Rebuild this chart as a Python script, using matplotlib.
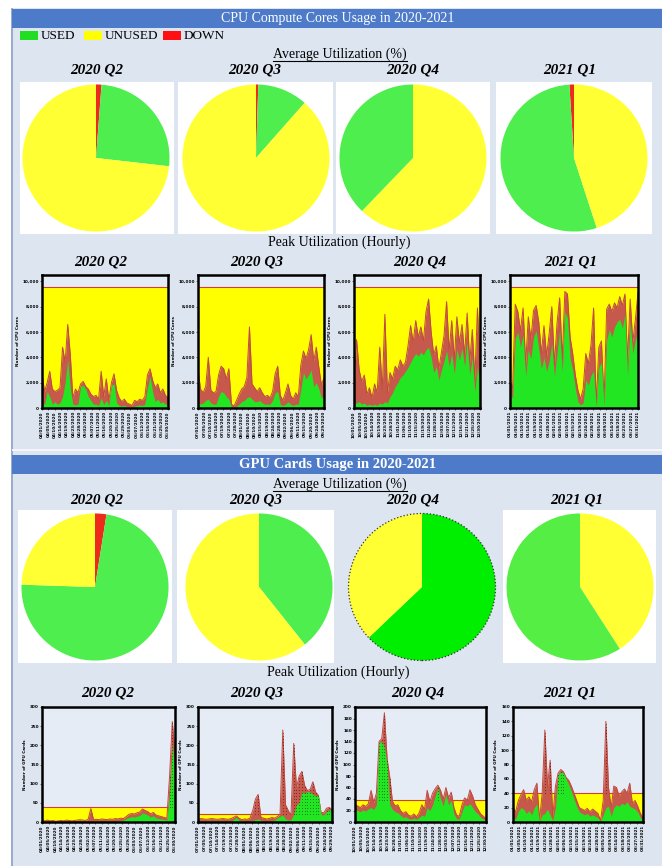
import numpy as np
import matplotlib
matplotlib.use("Agg")
import matplotlib.pyplot as plt
from matplotlib.patches import Rectangle, Circle
from matplotlib.lines import Line2D

W, H = 662, 866
SERIF = "Liberation Serif"

QUARTERS = ["2020 Q2", "2020 Q3", "2020 Q4", "2021 Q1"]
LEGEND = ["USED", "UNUSED", "DOWN"]

# average utilization (%) -> used, unused, down
cpu_used = [25.6, 11.0, 37.8, 54.0]
cpu_unused = [73.2, 88.5, 62.2, 45.0]
cpu_down = [1.2, 0.5, 0.0, 1.0]
gpu_used = [73.0, 39.3, 62.9, 59.1]
gpu_unused = [24.5, 60.7, 37.1, 40.9]
gpu_down = [2.5, 0.0, 0.0, 0.0]

# hourly peak (red) and used (green) series, capacity (yellow)
cpu_cap = [9560, 9560, 9560, 9560]
cpu_peak = [
    [2700, 1300, 2000, 2900, 1500, 1300, 1400, 1600, 4800, 3600, 6600, 4200, 800, 1500, 1200, 1900, 2100,
     1700, 1500, 1100, 900, 1000, 700, 2900, 900, 2300, 600, 2000, 2700, 1400, 800, 500, 700, 400, 300,
     200, 600, 500, 700, 600, 900, 2600, 3100, 2200, 1600, 1900, 1200, 1500, 1000, 800],
    [3000, 1500, 1200, 1700, 4000, 1400, 1200, 1300, 2600, 3300, 3100, 2300, 3100, 300, 150, 600, 1100,
     1500, 1700, 2400, 6400, 1900, 1600, 1300, 1600, 1200, 900, 1000, 800, 1300, 2700, 3300, 1000, 600,
     1200, 1900, 1000, 700, 1200, 900, 3400, 4500, 3900, 4600, 5800, 3700, 4800, 3200, 1800, 2400],
    [1200, 5400, 3000, 2100, 2600, 1100, 1600, 800, 1900, 1200, 4800, 1500, 7400, 1200, 2800, 2300, 3300,
     3000, 3800, 3300, 3600, 4900, 6500, 5200, 6900, 5600, 6400, 5300, 7600, 8600, 6000, 4200, 4900, 3100,
     4400, 5700, 8400, 4500, 6900, 3800, 7200, 5100, 6600, 4200, 7500, 3600, 6200, 2200, 7900, 3400],
    [2200, 1600, 8200, 7600, 6100, 7900, 3500, 7200, 5400, 7700, 8100, 6800, 4300, 6500, 4100, 5900, 8000,
     3400, 6700, 8700, 3900, 9200, 9000, 5600, 4300, 2600, 1400, 700, 1500, 4300, 3500, 5000, 7900, 300,
     4800, 5300, 500, 7800, 8200, 7600, 8300, 7900, 8800, 8100, 9000, 3800, 8600, 5200, 7000, 9100],
]
cpu_used_hr = [
    [400, 300, 1300, 900, 300, 500, 300, 400, 900, 2000, 3800, 1500, 300, 250, 300, 1700, 1800, 1500, 900,
     600, 300, 300, 200, 800, 250, 600, 200, 1800, 1900, 400, 200, 150, 200, 100, 80, 60, 150, 200, 250,
     200, 300, 1600, 2500, 1300, 500, 700, 400, 500, 300, 300],
    [500, 300, 400, 600, 700, 400, 300, 300, 900, 1300, 1200, 900, 700, 100, 50, 150, 300, 500, 600, 800,
     900, 700, 500, 500, 600, 400, 300, 300, 300, 600, 1200, 1300, 300, 200, 300, 500, 300, 200, 300, 300,
     1500, 2800, 2300, 2600, 3000, 1700, 2000, 1500, 800, 1000],
    [300, 400, 500, 300, 400, 200, 300, 200, 300, 200, 400, 300, 500, 400, 900, 1200, 1700, 2000, 2400,
     2600, 2900, 3200, 3600, 4000, 4300, 4100, 4400, 4200, 4600, 4800, 4000, 2800, 3300, 2200, 3000, 3700,
     4500, 3300, 4300, 2700, 4600, 3800, 4700, 3300, 5200, 2600, 4000, 1300, 3300, 1800],
    [1000, 800, 5500, 6000, 4800, 5800, 2500, 4600, 3900, 5600, 6100, 4700, 3100, 4000, 2900, 3700, 5100,
     2500, 4300, 6200, 2800, 7600, 7100, 3900, 3000, 1600, 500, 250, 400, 2200, 1800, 2600, 2900, 100,
     3200, 3600, 200, 5400, 6200, 5600, 6400, 6800, 7000, 6300, 7400, 2600, 6800, 4300, 5400, 6000],
]

gpu_cap = [40, 22, 38, 40]
gpu_peak = [
    [4, 3, 5, 3, 4, 2, 3, 4, 3, 5, 4, 3, 4, 5, 6, 5, 4, 7, 35, 6, 7, 6, 8, 7, 6, 8, 7, 9, 8, 10, 9, 14,
     20, 22, 21, 24, 26, 34, 30, 27, 21, 25, 18, 16, 14, 12, 10, 120, 262, 180],
    [8, 9, 8, 7, 8, 9, 8, 7, 8, 9, 8, 7, 9, 12, 16, 10, 6, 8, 7, 10, 30, 60, 72, 12, 10, 8, 9, 12, 10, 14,
     20, 240, 45, 30, 18, 205, 90, 120, 132, 95, 82, 85, 105, 78, 70, 25, 24, 36, 38, 32],
    [30, 28, 25, 30, 27, 32, 55, 34, 50, 140, 145, 190, 110, 78, 36, 28, 30, 20, 15, 18, 12, 10, 14, 9, 16,
     30, 22, 55, 35, 50, 58, 64, 55, 40, 60, 42, 52, 25, 12, 10, 30, 42, 38, 56, 45, 30, 22, 14, 10, 6],
    [21, 14, 30, 38, 45, 30, 35, 28, 45, 54, 3, 40, 128, 50, 86, 8, 50, 68, 73, 70, 62, 58, 50, 40, 30, 20,
     18, 16, 19, 14, 18, 15, 12, 2, 30, 140, 48, 20, 50, 48, 36, 42, 46, 40, 54, 26, 30, 22, 12, 6],
]
gpu_used_hr = [
    [1, 2, 1, 2, 1, 1, 2, 1, 2, 1, 2, 1, 2, 1, 2, 2, 1, 2, 3, 2, 2, 3, 2, 3, 2, 3, 2, 3, 3, 4, 5, 9, 12, 14,
     13, 15, 17, 24, 21, 18, 13, 16, 11, 9, 8, 7, 5, 70, 205, 115],
    [2, 3, 2, 2, 3, 3, 2, 2, 3, 3, 2, 2, 3, 6, 12, 5, 2, 3, 2, 3, 4, 6, 8, 4, 3, 2, 3, 4, 5, 10, 15, 18, 8,
     5, 6, 20, 45, 50, 78, 75, 80, 78, 72, 68, 70, 20, 18, 28, 32, 30],
    [22, 20, 18, 21, 19, 23, 25, 22, 30, 138, 140, 130, 100, 30, 22, 18, 16, 12, 8, 9, 6, 5, 7, 5, 8, 12,
     10, 25, 20, 30, 45, 60, 40, 28, 48, 30, 38, 14, 6, 5, 18, 30, 28, 32, 25, 18, 14, 8, 5, 3],
    [8, 4, 15, 20, 18, 12, 16, 10, 20, 25, 1, 10, 12, 18, 10, 2, 20, 66, 70, 68, 60, 52, 42, 32, 22, 14,
     12, 10, 12, 8, 10, 8, 6, 1, 10, 20, 22, 8, 20, 24, 22, 26, 24, 28, 22, 20, 18, 14, 6, 3],
]
gpu_ymax = [300, 300, 200, 160]
gpu_ystep = [50, 50, 20, 20]

date_labels = [
    ["04/01/2020", "04/05/2020", "04/10/2020", "04/14/2020", "04/19/2020", "04/23/2020", "04/28/2020",
     "05/02/2020", "05/07/2020", "05/11/2020", "05/16/2020", "05/20/2020", "05/25/2020", "05/29/2020",
     "06/03/2020", "06/07/2020", "06/12/2020", "06/16/2020", "06/21/2020", "06/25/2020", "06/30/2020"],
    ["07/01/2020", "07/05/2020", "07/10/2020", "07/14/2020", "07/19/2020", "07/23/2020", "07/28/2020",
     "08/01/2020", "08/06/2020", "08/10/2020", "08/15/2020", "08/19/2020", "08/24/2020", "08/28/2020",
     "09/02/2020", "09/06/2020", "09/11/2020", "09/15/2020", "09/20/2020", "09/24/2020", "09/29/2020"],
    ["10/01/2020", "10/05/2020", "10/10/2020", "10/14/2020", "10/19/2020", "10/23/2020", "10/28/2020",
     "11/01/2020", "11/06/2020", "11/10/2020", "11/15/2020", "11/19/2020", "11/24/2020", "11/28/2020",
     "12/03/2020", "12/07/2020", "12/12/2020", "12/16/2020", "12/21/2020", "12/25/2020", "12/30/2020"],
    ["01/01/2021", "01/05/2021", "01/10/2021", "01/14/2021", "01/19/2021", "01/23/2021", "01/28/2021",
     "02/01/2021", "02/06/2021", "02/10/2021", "02/15/2021", "02/19/2021", "02/24/2021", "02/28/2021",
     "03/05/2021", "03/09/2021", "03/14/2021", "03/18/2021", "03/23/2021", "03/27/2021", "03/31/2021"],
]

GREEN, YELLOW, RED = "#4dee4d", "#ffff33", "#ee2a1a"
C_GREEN, C_YELLOW, C_PEAK = "#22e622", "#ffff00", "#c6584c"
BG, BAR = "#dde5f0", "#4d7bc9"

fig = plt.figure(figsize=(W / 100, H / 100), dpi=100)
fig.patch.set_facecolor("white")


def px_axes(x0, y0, x1, y1):
    return fig.add_axes([x0 / W, 1 - y1 / H, (x1 - x0) / W, (y1 - y0) / H])


def frect(x0, y0, x1, y1, color, **kw):
    # figure-level background boxes, kept under the axes
    fig.patches.append(Rectangle((x0 / W, 1 - y1 / H), (x1 - x0) / W, (y1 - y0) / H,
                                 transform=fig.transFigure, facecolor=color,
                                 edgecolor="none", zorder=-10, **kw))


def ftext(x, y, s, **kw):
    kw.setdefault("family", SERIF)
    kw.setdefault("ha", "center")
    kw.setdefault("va", "center")
    return fig.text(x / W, 1 - y / H, s, **kw)


def underline(t, y):
    fig.canvas.draw()
    bb = t.get_window_extent(fig.canvas.get_renderer())
    fig.lines.append(Line2D([bb.x0 / W, bb.x1 / W], [1 - y / H] * 2,
                            transform=fig.transFigure, color="black", lw=0.8))


# page background + header bars
frect(12, 8, 662, 866, BG)
frect(11, 8, 12.5, 866, "#9aaccb")
frect(12, 449, 662, 451, "#f2f5fa")
frect(12, 9, 662, 28, BAR)
frect(12, 455, 662, 474, BAR)
ftext(338, 18.5, "CPU Compute Cores Usage in 2020-2021", color="white", fontsize=10)
ftext(338, 464.5, "GPU Cards Usage in 2020-2021", color="white", fontsize=10.5,
      weight="bold")

# legend
for (x0, col), lab in zip([(20, "#22dd22"), (84, "#ffff00"), (163, "#ff1111")], LEGEND):
    frect(x0, 31, x0 + 18, 40, col)
    ftext(x0 + 21, 36, lab, ha="left", fontsize=9.5)

t = ftext(340, 54, "Average Utilization (%)", fontsize=10)
underline(t, 61)
t = ftext(340, 484, "Average Utilization (%)", fontsize=10)
underline(t, 491)
ftext(339, 242, "Peak Utilization (Hourly)", fontsize=10)
ftext(338, 672, "Peak Utilization (Hourly)", fontsize=10)

qkw = dict(fontsize=11, weight="bold", style="italic")
for x, q in zip([97, 255, 413, 570], QUARTERS):
    ftext(x, 70, q, **qkw)
for x, q in zip([101, 257, 420, 571], QUARTERS):
    ftext(x, 262, q, **qkw)
for x, q in zip([97, 256, 413, 577], QUARTERS):
    ftext(x, 500, q, **qkw)
for x, q in zip([108, 257, 418, 570], QUARTERS):
    ftext(x, 693, q, **qkw)


# ---- pies ----
def draw_pie(cx, cy, r, vals, cols, start, ccw, box=None, outline=False):
    if box is not None:
        frect(*box, "white")
    ax = px_axes(cx - r, cy - r, cx + r, cy + r)
    ax.pie(vals, colors=cols, startangle=start, counterclock=ccw, radius=1,
           wedgeprops=dict(linewidth=0))
    if outline:
        ax.add_patch(Circle((0, 0), 1.0, fill=False, ec="#333333", lw=0.9, ls=":"))
    ax.set_xlim(-1.02, 1.02)
    ax.set_ylim(-1.02, 1.02)
    ax.set_aspect("equal")
    ax.axis("off")


cpu_boxes = [(20, 82, 174, 234), (178, 82, 333, 234), (336, 82, 490, 234), (496, 82, 652, 234)]
cpu_centres = [(96, 158), (256, 158), (413, 158), (574, 158)]
# slice order as seen going round from 12 o'clock
cpu_order = [("down", "used", "unused", False), ("down", "used", "unused", False),
             ("unused", "used", None, False), ("down", "used", "unused", True)]
for i in range(4):
    d = {"used": (cpu_used[i], GREEN), "unused": (cpu_unused[i], YELLOW),
         "down": (cpu_down[i], RED)}
    keys = [k for k in cpu_order[i][:3] if k]
    draw_pie(*cpu_centres[i], 75, [d[k][0] for k in keys], [d[k][1] for k in keys],
             90, cpu_order[i][3], box=cpu_boxes[i])

gpu_boxes = [(18, 510, 172, 663), (177, 510, 334, 663), None, (503, 510, 656, 663)]
gpu_centres = [(95, 587), (259, 587), (422, 587), (580, 587)]
gpu_green = [GREEN, GREEN, "#00ee00", "#55ee44"]
for i in range(4):
    d = {"used": (gpu_used[i], gpu_green[i]), "unused": (gpu_unused[i], YELLOW),
         "down": (gpu_down[i], RED)}
    keys = ["down", "used", "unused"] if i != 3 else ["unused", "used"]
    keys = [k for k in keys if d[k][0] > 0]
    draw_pie(*gpu_centres[i], 75, [d[k][0] for k in keys], [d[k][1] for k in keys],
             90, False, box=gpu_boxes[i], outline=(i == 2))


# ---- hourly charts ----
def hourly(box, peak, used, cap, ymax, yticks, xlabels, ylab, dots=False):
    ax = px_axes(*box)
    n = len(peak)
    x = np.arange(n)
    ax.set_facecolor("#e6ecf5")
    ax.fill_between([0, n - 1], 0, cap, color=C_YELLOW, lw=0, zorder=1)
    ax.axhline(cap, color="#d04030", lw=0.8, zorder=2)
    ax.fill_between(x, 0, peak, color=C_PEAK, lw=0, zorder=3)
    ax.plot(x, peak, color="#c04a40", lw=0.7, zorder=4)
    ax.fill_between(x, 0, used, color=C_GREEN, lw=0, zorder=5)
    if dots:
        pk = np.array(peak)
        idx = np.where(pk > 1.6 * cap)[0]
        ax.vlines(idx, cap, pk[idx], colors="black", lw=0.6, linestyles=(0, (0.6, 3)),
                  zorder=6)
    ax.set_xlim(0, n - 1)
    ax.set_ylim(0, ymax)
    ax.set_yticks(yticks)
    ax.set_yticklabels([f"{v:,}" for v in yticks], fontsize=3, weight="bold")
    ax.set_xticks(np.linspace(0, n - 1, len(xlabels)))
    ax.set_xticklabels(xlabels, rotation=90, fontsize=3, weight="bold")
    ax.tick_params(length=1.2, width=0.4, pad=1)
    ax.set_ylabel(ylab, fontsize=3, weight="bold", labelpad=2)
    for s in ax.spines.values():
        s.set_linewidth(1.8)
        s.set_zorder(10)
    return ax


cpu_frames = [(42, 275, 168, 408), (198, 275, 324, 408), (354, 275, 480, 408),
              (510, 275, 638, 408)]
for i in range(4):
    hourly(cpu_frames[i], cpu_peak[i], cpu_used_hr[i], cpu_cap[i], 10500,
           list(range(0, 10001, 2000)), date_labels[i], "Number of CPU Cores")

gpu_frames = [(42, 707, 175, 822), (198, 707, 332, 822), (355, 707, 486, 822),
              (513, 707, 643, 822)]
for i in range(4):
    hourly(gpu_frames[i], gpu_peak[i], gpu_used_hr[i], gpu_cap[i], gpu_ymax[i],
           list(range(0, gpu_ymax[i] + 1, gpu_ystep[i])), date_labels[i],
           "Number of GPU Cards", dots=True)

fig.savefig("out.png", dpi=100)
